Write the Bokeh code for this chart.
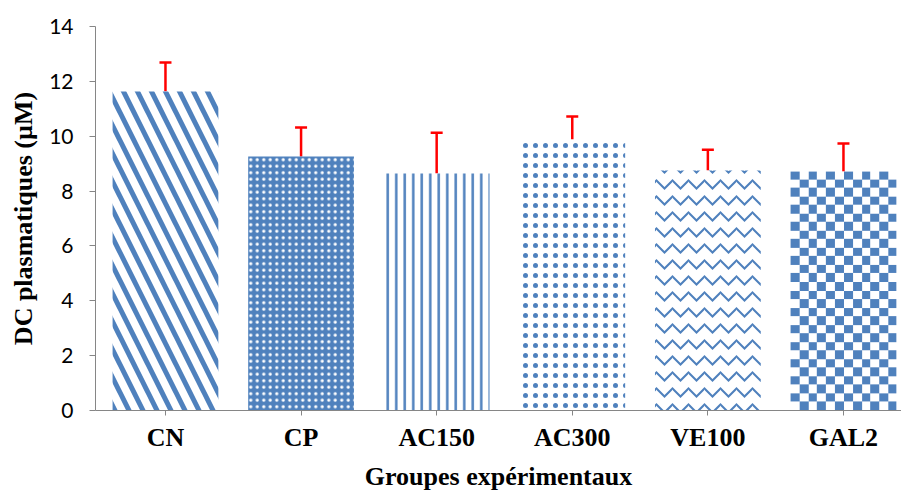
import numpy as np
from bokeh.plotting import figure
from bokeh.models import Range1d, FixedTicker, Whisker, ColumnDataSource, TeeHead
from bokeh.embed import file_html
from bokeh.resources import INLINE

categories = ["CN", "CP", "AC150", "AC300", "VE100", "GAL2"]
means = [11.63, 9.26, 8.64, 9.88, 8.75, 8.71]
errors = [1.06, 1.06, 1.49, 0.84, 0.76, 1.02]
y_ticks = [0, 2, 4, 6, 8, 10, 12, 14]

BLUE = "#4F81BD"
BAR_W = 0.78

p = figure(width=901, height=493, output_backend="svg", toolbar_location=None,
           x_range=Range1d(-0.516, 5.428), y_range=Range1d(0, 14),
           min_border_left=95, min_border_right=0, min_border_top=26, min_border_bottom=83)
p.outline_line_color = None
p.xgrid.grid_line_color = None
p.ygrid.grid_line_color = None
p.background_fill_color = "white"
p.border_fill_color = "white"

xs = list(range(len(categories)))

styles = [
    dict(fill_color="white", hatch_pattern="left_diagonal_line", hatch_color=BLUE, hatch_scale=28, hatch_weight=5),
    dict(fill_color=BLUE, hatch_pattern="dot", hatch_color="white", hatch_scale=6.5),
    dict(fill_color="white", hatch_pattern="vertical_line", hatch_color=BLUE, hatch_scale=8.5, hatch_weight=2.5),
    dict(fill_color="white", hatch_pattern="dot", hatch_color=BLUE, hatch_scale=10),
    dict(fill_color="white", hatch_pattern="horizontal_wave", hatch_color=BLUE, hatch_scale=16, hatch_weight=2),
]
for i in range(5):
    p.vbar(x=[xs[i]], top=[means[i]], bottom=0, width=BAR_W, line_color=None, **styles[i])

# checkerboard texture for GAL2, drawn as an image filling the bar
cols, rows, px = 12, 28, 8
img = np.empty((rows * px, cols * px), dtype=np.uint32)
view = img.view(dtype=np.uint8).reshape((rows * px, cols * px, 4))
for r in range(rows):
    for c in range(cols):
        blue = ((rows - 1 - r) + c) % 2 == 0
        col = (0x4F, 0x81, 0xBD, 255) if blue else (255, 255, 255, 255)
        view[r * px:(r + 1) * px, c * px:(c + 1) * px] = col
g = xs[5]
p.image_rgba(image=[img], x=g - BAR_W / 2, y=0, dw=BAR_W, dh=means[5])

upper = [m + e for m, e in zip(means, errors)]
src = ColumnDataSource(dict(x=xs, lower=means, upper=upper))
w = Whisker(source=src, base="x", lower="lower", upper="upper", dimension="height",
            line_color="red", line_width=2.5,
            upper_head=TeeHead(size=12, line_color="red", line_width=2.5), lower_head=None)
p.add_layout(w)

# axes
p.xaxis.ticker = FixedTicker(ticks=xs)
p.xaxis.major_label_overrides = {i: c for i, c in enumerate(categories)}
p.yaxis.ticker = FixedTicker(ticks=y_ticks)
for ax in (p.xaxis, p.yaxis):
    ax.axis_line_color = "#868686"
    ax.axis_line_width = 1
    ax.major_tick_line_color = "#868686"
    ax.major_tick_in = 0
    ax.minor_tick_line_color = None
p.yaxis.major_tick_out = 6
p.xaxis.major_tick_out = 5
p.yaxis.major_label_text_font = "Lato"
p.yaxis.major_label_text_font_size = "21px"
p.yaxis.major_label_text_color = "black"
p.yaxis.major_label_standoff = 16
p.xaxis.major_label_text_font = "Liberation Serif"
p.xaxis.major_label_text_font_style = "bold"
p.xaxis.major_label_text_font_size = "26px"
p.xaxis.major_label_text_color = "black"
p.xaxis.major_label_standoff = 7

p.xaxis.axis_label = "Groupes expérimentaux"
p.yaxis.axis_label = "DC plasmatiques (µM)"
for ax in (p.xaxis, p.yaxis):
    ax.axis_label_text_font = "Liberation Serif"
    ax.axis_label_text_font_style = "bold"
    ax.axis_label_text_font_size = "26px"
    ax.axis_label_text_color = "black"
p.xaxis.axis_label_standoff = 7
p.yaxis.axis_label_standoff = 8

open("out.html", "w").write(file_html(p, INLINE))
